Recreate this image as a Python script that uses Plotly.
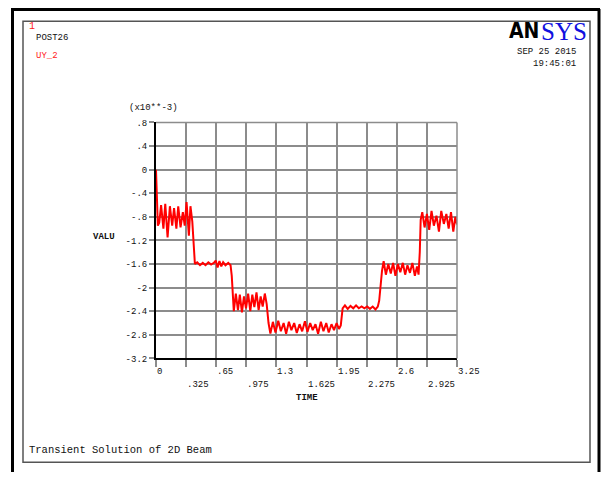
import plotly.graph_objects as go

# ---------------- data (UY_2, in units of 1e-3) ----------------
time = [0.000, 0.008, 0.020, 0.035, 0.055, 0.080, 0.100, 0.125, 0.150, 0.175,
        0.195, 0.220, 0.240, 0.265, 0.290, 0.310, 0.330, 0.355, 0.372, 0.392,
        0.405, 0.420,
        0.445, 0.475, 0.505, 0.535, 0.565, 0.595, 0.625, 0.645, 0.665, 0.685,
        0.705, 0.725, 0.750, 0.780, 0.805, 0.818, 0.840,
        0.862, 0.885, 0.905, 0.928, 0.950, 0.972, 0.995, 1.018, 1.040, 1.062,
        1.085, 1.108, 1.130, 1.152, 1.175, 1.195, 1.215, 1.235,
        1.262, 1.290, 1.320, 1.348, 1.378, 1.405, 1.435, 1.462, 1.492, 1.520,
        1.550, 1.578, 1.608, 1.635, 1.665, 1.692, 1.722, 1.750, 1.780, 1.808,
        1.838, 1.865, 1.895, 1.922, 1.950, 1.975, 1.995, 2.015,
        2.040, 2.070, 2.100, 2.130, 2.160, 2.190, 2.220, 2.250, 2.280, 2.310,
        2.340, 2.370, 2.395, 2.410, 2.425, 2.440,
        2.458, 2.482, 2.508, 2.535, 2.560, 2.585, 2.612, 2.638, 2.665, 2.690,
        2.715, 2.742, 2.768, 2.795, 2.818, 2.835, 2.848, 2.858,
        2.875, 2.900, 2.925, 2.950, 2.975, 3.000, 3.028, 3.055, 3.080, 3.108,
        3.135, 3.160, 3.185, 3.210, 3.232, 3.250]

uy_2 = [0.00, -0.50, -0.95, -0.90, -0.60, -1.00, -0.58, -1.15, -0.62, -0.95,
        -0.65, -1.00, -0.62, -0.98, -0.72, -0.95, -0.55, -1.12, -0.62, -0.88,
        -1.25, -1.60,
        -1.57, -1.62, -1.58, -1.62, -1.57, -1.61, -1.58, -1.54, -1.66, -1.55,
        -1.64, -1.57, -1.62, -1.58, -1.62, -1.80, -2.40,
        -2.10, -2.38, -2.12, -2.42, -2.15, -2.35, -2.10, -2.40, -2.12, -2.33,
        -2.08, -2.38, -2.15, -2.32, -2.10, -2.28, -2.60, -2.78,
        -2.58, -2.76, -2.56, -2.74, -2.60, -2.78, -2.58, -2.72, -2.60, -2.77,
        -2.62, -2.74, -2.57, -2.75, -2.60, -2.72, -2.62, -2.78, -2.58, -2.74,
        -2.60, -2.76, -2.62, -2.72, -2.60, -2.70, -2.64, -2.35,
        -2.30, -2.36, -2.31, -2.35, -2.30, -2.35, -2.32, -2.35, -2.32, -2.36,
        -2.32, -2.37, -2.32, -2.22, -1.95, -1.72,
        -1.55, -1.78, -1.60, -1.76, -1.58, -1.80, -1.60, -1.74, -1.58, -1.78,
        -1.62, -1.75, -1.58, -1.80, -1.64, -1.78, -1.40, -0.85,
        -0.72, -0.98, -0.75, -1.02, -0.70, -0.95, -0.78, -1.05, -0.70, -0.92,
        -0.75, -1.00, -0.72, -1.05, -0.80, -0.93]

x_ticks = [0, 0.325, 0.65, 0.975, 1.3, 1.625, 1.95, 2.275, 2.6, 2.925, 3.25]
x_tick_text = ["0", ".325", ".65", ".975", "1.3", "1.625", "1.95", "2.275", "2.6", "2.925", "3.25"]
y_ticks = [0.8, 0.4, 0.0, -0.4, -0.8, -1.2, -1.6, -2.0, -2.4, -2.8, -3.2]
y_tick_text = [".8", ".4", "0", "-.4", "-.8", "-1.2", "-1.6", "-2", "-2.4", "-2.8", "-3.2"]

# ---------------- layout helpers ----------------
W, H = 602, 478
def px(x):
    return x / W
def py(y):
    return 1 - y / H

MONO = "Liberation Mono, Courier New, monospace"
GRID = "#8c8c8c"
TXT = "#111"

fig = go.Figure()
fig.add_trace(go.Scatter(x=time, y=uy_2, mode="lines",
                         line=dict(color="#ff0000", width=2), showlegend=False,
                         hoverinfo="skip"))

x0, x1 = 156, 457
y0, y1 = 121, 362

fig.update_layout(
    width=W, height=H,
    margin=dict(l=0, r=0, t=0, b=0),
    paper_bgcolor="white", plot_bgcolor="white",
    xaxis=dict(domain=[px(x0), px(x1)], range=[0, 3.25],
               tickvals=x_ticks, showticklabels=False,
               showgrid=True, gridcolor=GRID, gridwidth=1.5,
               ticks="outside", ticklen=7, tickcolor=GRID, tickwidth=1.5,
               showline=True, linecolor="black", linewidth=2,
               zeroline=False, fixedrange=True),
    yaxis=dict(domain=[py(y1), py(y0)], range=[-3.2, 0.8],
               tickvals=y_ticks, ticktext=y_tick_text,
               tickfont=dict(family=MONO, size=9, color=TXT),
               showgrid=True, gridcolor=GRID, gridwidth=1.5,
               ticks="outside", ticklen=5, tickcolor=GRID, tickwidth=1.5,
               showline=True, linecolor="black", linewidth=2,
               zeroline=False, fixedrange=True),
)

shapes = []
# top and right plot borders (gray)
shapes.append(dict(type="line", xref="paper", yref="paper",
                   x0=px(x0), x1=px(x1), y0=py(y0), y1=py(y0),
                   line=dict(color=GRID, width=1.5)))
shapes.append(dict(type="line", xref="paper", yref="paper",
                   x0=px(x1), x1=px(x1), y0=py(y0), y1=py(y1),
                   line=dict(color=GRID, width=1.5)))
# inner thin frame
shapes.append(dict(type="rect", xref="paper", yref="paper",
                   x0=px(23), x1=px(590), y0=py(468), y1=py(17.5),
                   line=dict(color="#555", width=1.5)))
# outer thick frame (left, top, right)
shapes.append(dict(type="line", xref="paper", yref="paper",
                   x0=px(12.5), x1=px(12.5), y0=py(5), y1=0,
                   line=dict(color="black", width=3)))
shapes.append(dict(type="line", xref="paper", yref="paper",
                   x0=px(11), x1=px(600), y0=py(5.5), y1=py(5.5),
                   line=dict(color="black", width=3)))
shapes.append(dict(type="line", xref="paper", yref="paper",
                   x0=px(599), x1=px(599), y0=py(5), y1=0,
                   line=dict(color="black", width=3)))
fig.update_layout(shapes=shapes)

ann = []
# x tick labels in two staggered rows
for i, (v, t) in enumerate(zip(x_ticks, x_tick_text)):
    ypix = 376 if i % 2 == 0 else 389
    ann.append(dict(x=v, xref="x", y=py(ypix), yref="paper", text=t,
                    showarrow=False, xanchor="left", yanchor="middle",
                    xshift=-1, font=dict(family=MONO, size=9, color=TXT)))
ann.append(dict(x=1.625, xref="x", y=py(402), yref="paper", text="<b>TIME</b>",
                showarrow=False, xanchor="center", yanchor="middle",
                font=dict(family=MONO, size=9, color=TXT)))
ann.append(dict(x=px(104), xref="paper", y=py(238), yref="paper", text="<b>VALU</b>",
                showarrow=False, xanchor="center", yanchor="middle",
                font=dict(family=MONO, size=9, color=TXT)))
ann.append(dict(x=px(153), xref="paper", y=py(106), yref="paper", text="(x10**-3)",
                showarrow=False, xanchor="center", yanchor="middle",
                font=dict(family=MONO, size=9, color=TXT)))
# header texts
ann.append(dict(x=px(27), xref="paper", y=py(23), yref="paper", text="1",
                showarrow=False, xanchor="left", yanchor="middle",
                font=dict(family=MONO, size=10, color="#ff2020")))
ann.append(dict(x=px(34), xref="paper", y=py(35), yref="paper", text="POST26",
                showarrow=False, xanchor="left", yanchor="middle",
                font=dict(family=MONO, size=9, color=TXT)))
ann.append(dict(x=px(34), xref="paper", y=py(53), yref="paper", text="UY_2",
                showarrow=False, xanchor="left", yanchor="middle",
                font=dict(family=MONO, size=9, color="#ff2020")))
ann.append(dict(x=px(578), xref="paper", y=py(49), yref="paper", text="SEP 25 2015",
                showarrow=False, xanchor="right", yanchor="middle",
                font=dict(family=MONO, size=9, color=TXT)))
ann.append(dict(x=px(578), xref="paper", y=py(61), yref="paper", text="19:45:01",
                showarrow=False, xanchor="right", yanchor="middle",
                font=dict(family=MONO, size=9, color=TXT)))
# ANSYS logo
ann.append(dict(x=px(541), xref="paper", y=py(28), yref="paper",
                text="<b>AN</b>", showarrow=False, xanchor="right", yanchor="middle",
                font=dict(family="DejaVu Sans Condensed, DejaVu Sans", size=21,
                          color="black")))
ann.append(dict(x=px(539), xref="paper", y=py(28), yref="paper",
                text="SYS", showarrow=False, xanchor="left", yanchor="middle",
                font=dict(family="Liberation Serif", size=25, color="#1010e0")))
# footer
ann.append(dict(x=px(27), xref="paper", y=py(456), yref="paper",
                text="Transient Solution of 2D Beam", showarrow=False,
                xanchor="left", yanchor="middle",
                font=dict(family=MONO, size=10.5, color=TXT)))
fig.update_layout(annotations=ann)

fig.write_html("out.html")
